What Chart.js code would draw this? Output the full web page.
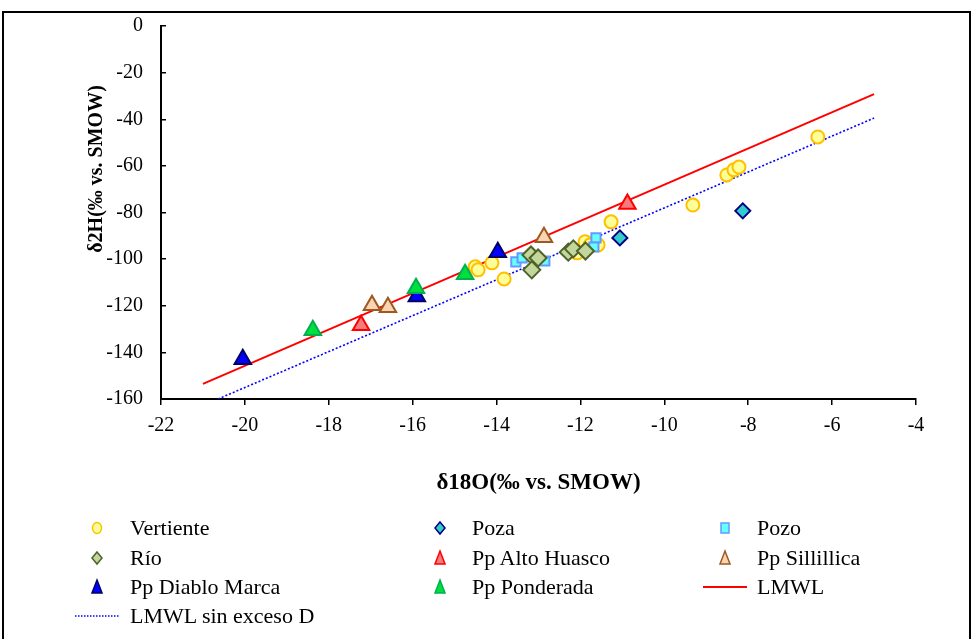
<!DOCTYPE html>
<html><head><meta charset="utf-8">
<script src="https://cdn.jsdelivr.net/npm/chart.js@4"></script>
<style>
html,body{margin:0;padding:0;background:#fff;}
#wrap{position:relative;width:973px;height:639px;overflow:hidden;font-family:'Liberation Serif','Times New Roman',serif;}
#frame{position:absolute;left:2px;top:11px;width:965px;height:680px;border:2px solid #000;}
#c{position:absolute;left:0;top:0;}
.lg{position:absolute;font-size:22px;line-height:24px;color:#000;white-space:nowrap;}
.ic{position:absolute;}
</style></head>
<body>
<div id="wrap"><div id="frame"></div><canvas id="c" width="973" height="639"></canvas><div id="legend"></div></div>
<script>
// ---- data ----
const xTicks = [-22, -20, -18, -16, -14, -12, -10, -8, -6, -4];
const yTicks = [0, -20, -40, -60, -80, -100, -120, -140, -160];

const vertienteX = [-14.51, -14.44, -14.11, -13.82, -12.08, -11.89, -11.77, -11.58, -11.27, -9.32, -8.51, -8.34, -8.22, -6.34];
const vertienteY = [-103.3, -104.6, -101.6, -108.5, -97.3, -92.6, -93.9, -93.9, -84.0, -76.8, -63.9, -61.7, -60.5, -47.6];
const pozaX = [-11.06, -8.13];
const pozaY = [-90.9, -79.3];
const pozoX = [-13.54, -13.39, -12.85, -11.63, -11.68];
const pozoY = [-101.2, -99.5, -100.8, -90.9, -94.8];
const rioX = [-13.18, -13.01, -13.16, -12.29, -12.17, -11.88];
const rioY = [-98.2, -99.5, -104.6, -97.0, -95.6, -96.5];
const altoX = [-17.23, -10.88];
const altoY = [-128.4, -76.4];
const sillX = [-16.97, -16.59, -12.87];
const sillY = [-119.8, -120.6, -90.6];
const diabloX = [-20.05, -15.90, -13.97];
const diabloY = [-143.0, -116.0, -97.1];
const pondX = [-18.38, -15.92, -14.75];
const pondY = [-130.5, -112.5, -106.5];
const lmwlX = [-21.0, -5.0];
const lmwlY = [-153.5, -29.2];
const lmwlSinX = [-20.64, -5.0];
const lmwlSinY = [-160.0, -39.5];

const names = ['Vertiente','Poza','Pozo','Río','Pp Alto Huasco','Pp Sillillica','Pp Diablo Marca','Pp Ponderada','LMWL','LMWL sin exceso D'];
const yTitle = 'δ2H(‰ vs. SMOW)';
const xTitle = 'δ18O(‰ vs. SMOW)';

function pts(xs, ys){ return xs.map((x,i)=>({x:x, y:ys[i]})); }

const styles = [
  {pointStyle:'circle', r:6.5, fill:'#ffff99', border:'#ffc000'},
  {pointStyle:'rectRot', r:7.5, fill:'#33cccc', border:'#000080'},
  {pointStyle:'rect', r:6.5, fill:'#66ffff', border:'#6699ff'},
  {pointStyle:'rectRot', r:8.5, fill:'#c3d69b', border:'#4f6228'},
  {pointStyle:'triangle', r:9.5, fill:'#f47c7c', border:'#ff0000'},
  {pointStyle:'triangle', r:9.5, fill:'#fbd4b4', border:'#9c5a1c'},
  {pointStyle:'triangle', r:9.5, fill:'#0000ff', border:'#000066'},
  {pointStyle:'triangle', r:9.5, fill:'#00e03c', border:'#00b050'}
];
const seriesX = [vertienteX,pozaX,pozoX,rioX,altoX,sillX,diabloX,pondX];
const seriesY = [vertienteY,pozaY,pozoY,rioY,altoY,sillY,diabloY,pondY];

const datasets = seriesX.map((xs,i)=>({
  type:'scatter', label:names[i], data:pts(xs, seriesY[i]),
  pointStyle:styles[i].pointStyle, pointRadius:styles[i].r, pointHoverRadius:styles[i].r,
  backgroundColor:styles[i].fill, borderColor:styles[i].border, borderWidth:2,
  order: 10 - i
}));
datasets.push({type:'line', label:names[8], data:pts(lmwlX,lmwlY), borderColor:'#ff0000', borderWidth:2, pointRadius:0, showLine:true, fill:false, order:20});
datasets.push({type:'line', label:names[9], data:pts(lmwlSinX,lmwlSinY), borderColor:'#0000ff', borderWidth:1.6, borderDash:[2,2], pointRadius:0, showLine:true, fill:false, order:21});

const FONT = "'Liberation Serif','Times New Roman',serif";

const yTitlePlugin = {
  id:'yTitlePlugin',
  afterDraw(chart){
    const ctx = chart.ctx;
    ctx.save();
    ctx.translate(97, 169);
    ctx.rotate(-Math.PI/2);
    ctx.font = 'bold 20px ' + FONT;
    ctx.fillStyle = '#000';
    ctx.textAlign = 'center';
    ctx.textBaseline = 'middle';
    ctx.fillText(yTitle, 0, 0);
    ctx.restore();
  }
};

new Chart(document.getElementById('c'), {
  data:{datasets:datasets},
  plugins:[yTitlePlugin],
  options:{
    responsive:false, animation:false,
    layout:{padding:{left:81, top:26, right:57, bottom:139}},
    plugins:{legend:{display:false}, tooltip:{enabled:false}},
    scales:{
      x:{type:'linear', min:-22, max:-4,
        afterBuildTicks:(s)=>{ s.ticks = xTicks.map(v=>({value:v})); },
        afterFit:(s)=>{ s.height = 101; s.paddingLeft = 0; s.paddingRight = 0; },
        grid:{display:true, drawOnChartArea:false, drawTicks:true, tickLength:6, color:'#000', lineWidth:1.5},
        border:{display:true, color:'#000', width:2},
        ticks:{color:'#000', padding:9, font:{family:FONT, size:20}, callback:(v)=>String(v), maxRotation:0, autoSkip:false},
        title:{display:true, text:xTitle, color:'#000', font:{family:FONT, size:23, weight:'bold'}, padding:{top:4,bottom:3}}
      },
      y:{type:'linear', min:-160, max:0,
        afterBuildTicks:(s)=>{ s.ticks = yTicks.map(v=>({value:v})); },
        afterFit:(s)=>{ s.width = 80; s.paddingTop = 0; s.paddingBottom = 0; },
        grid:{display:true, drawOnChartArea:false, drawTicks:true, tickLength:-5, color:'#000', lineWidth:1.5},
        border:{display:true, color:'#000', width:2},
        ticks:{color:'#000', padding:23, font:{family:FONT, size:20}, callback:(v)=>String(v), autoSkip:false},
        title:{display:false}
      }
    }
  }
});

// ---- HTML legend ----
const colIcon = [97, 440, 725], colText = [130, 472, 757], rowY = [528, 558, 587, 616];
const lg = document.getElementById('legend');
function drawIcon(ctx, i, cx, cy){
  ctx.lineWidth = 1.5;
  if (i >= 8){
    ctx.beginPath();
    ctx.strokeStyle = i===8 ? '#ff0000' : '#0000ff';
    ctx.lineWidth = i===8 ? 2 : 1.5;
    if (i===9) ctx.setLineDash([1.5,1.5]);
    ctx.moveTo(cx-22, cy); ctx.lineTo(cx+22, cy); ctx.stroke();
    return;
  }
  const st = styles[i];
  ctx.fillStyle = st.fill; ctx.strokeStyle = st.border;
  ctx.beginPath();
  if (st.pointStyle==='circle'){ ctx.ellipse(cx, cy, 4.5, 5.5, 0, 0, Math.PI*2); }
  else if (st.pointStyle==='rectRot'){ ctx.moveTo(cx, cy-6); ctx.lineTo(cx+5, cy); ctx.lineTo(cx, cy+6); ctx.lineTo(cx-5, cy); ctx.closePath(); }
  else if (st.pointStyle==='rect'){ ctx.rect(cx-4, cy-5, 8, 10); }
  else { ctx.moveTo(cx, cy-7); ctx.lineTo(cx+5, cy+6); ctx.lineTo(cx-5, cy+6); ctx.closePath(); }
  ctx.fill(); ctx.stroke();
}
names.forEach((n,i)=>{
  const col = i % 3, row = Math.floor(i/3);
  const cv = document.createElement('canvas');
  cv.width = 60; cv.height = 24; cv.className = 'ic';
  cv.style.left = (colIcon[col]-30)+'px'; cv.style.top = (rowY[row]-12)+'px';
  lg.appendChild(cv);
  drawIcon(cv.getContext('2d'), i, 30, 12);
  const t = document.createElement('div');
  t.className = 'lg'; t.textContent = n;
  t.style.left = colText[col]+'px'; t.style.top = (rowY[row]-12)+'px';
  lg.appendChild(t);
});
</script>
</body></html>
